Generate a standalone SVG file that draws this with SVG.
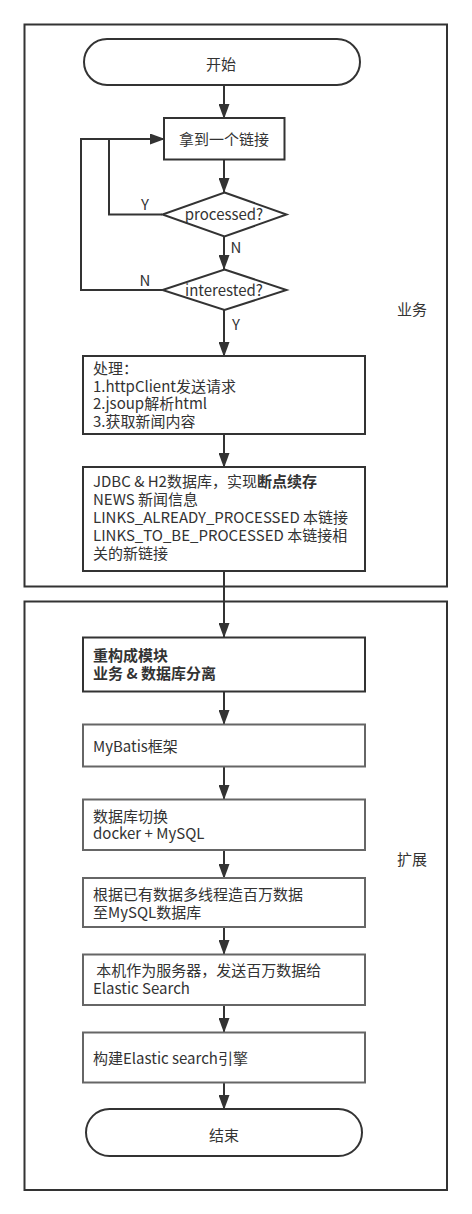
<svg xmlns="http://www.w3.org/2000/svg" width="472" height="1214" viewBox="0 0 472 1214">
<style>
text{font-family:"Noto Sans CJK SC","Microsoft YaHei","Open Sans",sans-serif;font-size:15px;fill:#333}
.c{text-anchor:middle}
.box{fill:none;stroke:#333;stroke-width:2}
.n1{fill:#fff;stroke:#333;stroke-width:2}
.n2{fill:#fff;stroke:#666;stroke-width:2}
.e{fill:none;stroke:#333;stroke-width:2}
.b{font-weight:bold}
</style>
<defs>
<marker id="ah" markerUnits="userSpaceOnUse" markerWidth="15" markerHeight="11" refX="14" refY="5.5" orient="auto">
<path d="M0,0 L15,5.5 L0,11 z" fill="#333"/>
</marker>
</defs>
<rect width="472" height="1214" fill="#fff"/>
<g id="group-business">
<rect class="box" x="24.5" y="24.5" width="422.5" height="562"/>
<text x="412" y="314.5" class="c">业务</text>
</g>
<g id="group-extension">
<rect class="box" x="24.5" y="601.5" width="422.5" height="588.5"/>
<text x="412" y="864.5" class="c">扩展</text>
</g>
<g id="connectors">
<line class="e" x1="224" y1="85" x2="224" y2="118" marker-end="url(#ah)"/>
<line class="e" x1="224" y1="159" x2="224" y2="192" marker-end="url(#ah)"/>
<line class="e" x1="224" y1="237" x2="224" y2="269" marker-end="url(#ah)"/>
<line class="e" x1="224" y1="310" x2="224" y2="356" marker-end="url(#ah)"/>
<line class="e" x1="224" y1="434" x2="224" y2="467" marker-end="url(#ah)"/>
<line class="e" x1="224" y1="571" x2="224" y2="637" marker-end="url(#ah)"/>
<line class="e" x1="224" y1="692" x2="224" y2="724" marker-end="url(#ah)"/>
<line class="e" x1="224" y1="767" x2="224" y2="799" marker-end="url(#ah)"/>
<line class="e" x1="224" y1="850" x2="224" y2="878" marker-end="url(#ah)"/>
<line class="e" x1="224" y1="927" x2="224" y2="954" marker-end="url(#ah)"/>
<line class="e" x1="224" y1="1005" x2="224" y2="1032" marker-end="url(#ah)"/>
<line class="e" x1="224" y1="1083" x2="224" y2="1109" marker-end="url(#ah)"/>
<polyline class="e" points="162,214.5 109,214.5 109,139 164,139" marker-end="url(#ah)"/>
<polyline class="e" points="162,290 81,290 81,139 109,139"/>
<text x="145" y="210" class="c">Y</text>
<text x="236" y="253" class="c">N</text>
<text x="145" y="286" class="c">N</text>
<text x="236" y="330" class="c">Y</text>
</g>
<g id="start">
<rect class="n1" x="84" y="39" width="276" height="46" rx="23"/>
<text x="221" y="69.5" class="c">开始</text>
</g>
<g id="get-link">
<rect class="n1" x="164" y="118" width="120.5" height="41.5"/>
<text x="224" y="145" class="c">拿到一个链接</text>
</g>
<g id="processed">
<polygon class="n1" points="224.5,192.5 286.5,214.5 224.5,236.5 162.5,214.5"/>
<text x="224" y="220" class="c">processed?</text>
</g>
<g id="interested">
<polygon class="n1" points="224.5,269.5 286.5,290 224.5,310 162.5,290"/>
<text x="224" y="296" class="c">interested?</text>
</g>
<g id="process">
<rect class="n1" x="83" y="356" width="282" height="78"/>
<text x="93" y="374">处理：<tspan x="93" dy="17.7">1.httpClient发送请求</tspan><tspan x="93" dy="17.7">2.jsoup解析html</tspan><tspan x="93" dy="17.7">3.获取新闻内容</tspan></text>
</g>
<g id="jdbc">
<rect class="n1" x="83" y="467" width="282" height="104"/>
<text x="93" y="487">JDBC &amp; H2数据库，实现<tspan class="b">断点续存</tspan><tspan x="93" dy="18">NEWS 新闻信息</tspan><tspan x="93" dy="18">LINKS_ALREADY_PROCESSED 本链接</tspan><tspan x="93" dy="18">LINKS_TO_BE_PROCESSED 本链接相</tspan><tspan x="93" dy="18">关的新链接</tspan></text>
</g>
<g id="refactor">
<rect class="n1" x="83" y="637.5" width="282" height="54"/>
<text x="93" y="660.5" class="b">重构成模块<tspan x="93" dy="18.5">业务 &amp; 数据库分离</tspan></text>
</g>
<g id="mybatis">
<rect class="n2" x="83" y="724.5" width="282" height="42"/>
<text x="93" y="752">MyBatis框架</text>
</g>
<g id="db-switch">
<rect class="n2" x="83" y="799.5" width="282" height="50.5"/>
<text x="93" y="821.5">数据库切换<tspan x="93" dy="17.5">docker + MySQL</tspan></text>
</g>
<g id="gen-data">
<rect class="n2" x="83" y="878" width="282" height="49"/>
<text x="93" y="899.5">根据已有数据多线程造百万数据<tspan x="93" dy="18.5">至MySQL数据库</tspan></text>
</g>
<g id="send-es">
<rect class="n2" x="83" y="954.5" width="282" height="50.5"/>
<text x="93" y="976" xml:space="preserve"> 本机作为服务器，发送百万数据给<tspan x="93" dy="18">Elastic Search</tspan></text>
</g>
<g id="build-es">
<rect class="n2" x="83" y="1032.5" width="282" height="50"/>
<text x="93" y="1064">构建Elastic search引擎</text>
</g>
<g id="end">
<rect class="n1" x="86" y="1109" width="276" height="47" rx="23.5"/>
<text x="224" y="1140.5" class="c">结束</text>
</g>
</svg>
